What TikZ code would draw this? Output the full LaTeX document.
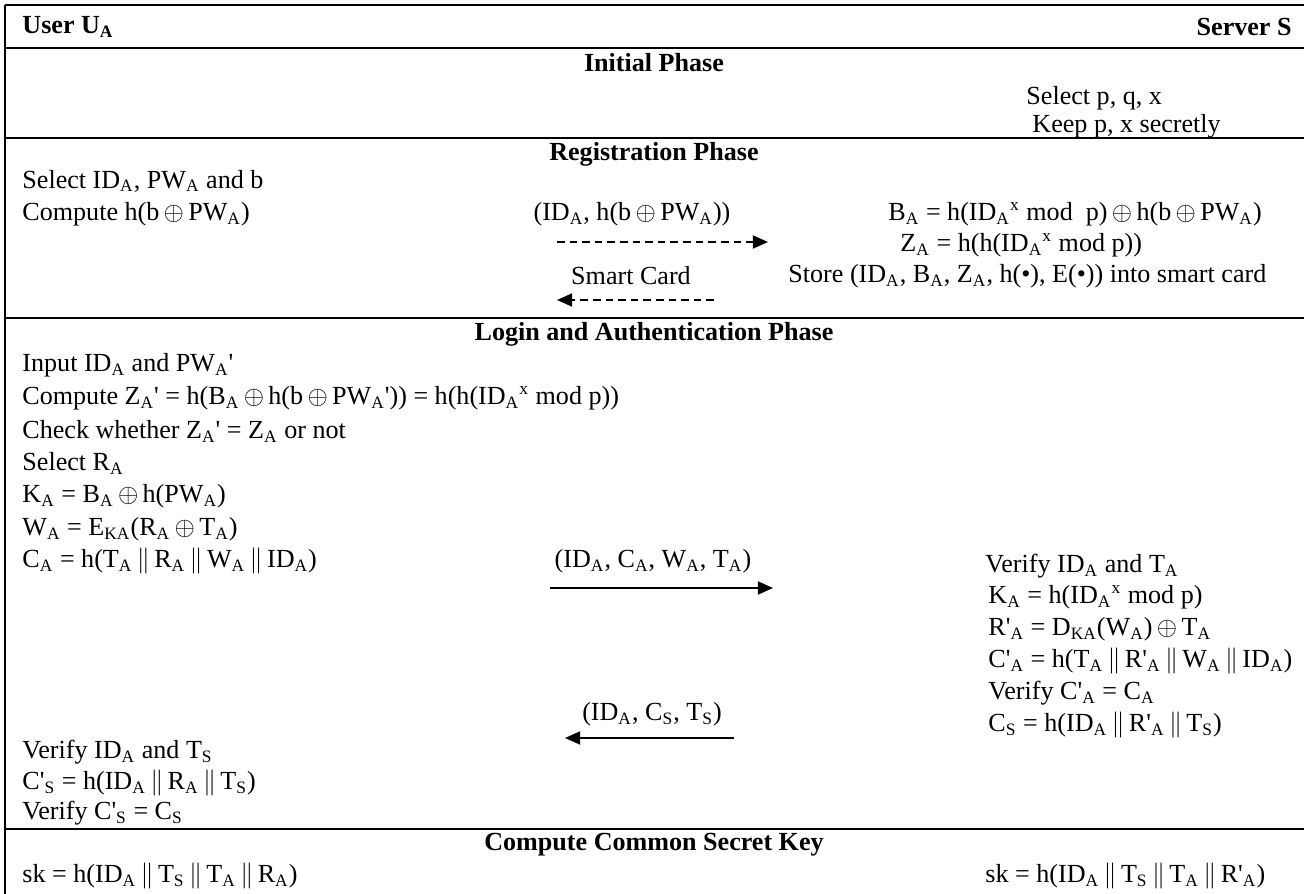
\documentclass[tikz,border=0pt]{standalone}
\usepackage{fontspec}
\setmainfont{Liberation Serif}
\usetikzlibrary{arrows.meta}
\newcommand{\subs}[1]{\textsubscript{#1}}
\newcommand{\sups}[1]{\textsuperscript{#1}}
\newcommand{\XOR}{\,$\oplus$\,}
\newcommand{\CAT}{$\,\|\,$}
\newcommand{\pr}{\textquotesingle}
\begin{document}
\begin{tikzpicture}[x=0.46pt,y=-0.46pt,
  txt/.style={anchor=west,inner sep=0pt,font=\fontsize{12}{14}\selectfont},
  ttl/.style={inner sep=0pt,font=\fontsize{12}{14}\selectfont\bfseries},
  rule/.style={line width=1pt},
  msg/.style={line width=0.9pt,-{Triangle[length=7pt,width=6pt]}},
  dmsg/.style={msg,dash pattern=on 3.5pt off 2.3pt}]
\useasboundingbox (0,0) rectangle (1304,894);

% frame and phase rules
\draw[rule] (5,5) -- (1304,5);
\draw[rule] (5,5) -- (5,894);
\foreach \yy in {48,138,318,829}
  \draw[rule] (5,\yy) -- (1304,\yy);

% header
\node[ttl,anchor=west] (user) at (22,27) {User U\subs{A}};
\node[ttl,anchor=east] (server) at (1292,27) {Server S};

% initial phase
\node[ttl] (tinit) at (654,63) {Initial Phase};
\node[txt] (s1) at (1026,98) {Select p, q, x};
\node[txt] (s2) at (1032,126) {Keep p, x secretly};

% registration phase
\node[ttl] (treg) at (654,154) {Registration Phase};
\node[txt] (u1) at (22,181) {Select ID\subs{A}, PW\subs{A} and b};
\node[txt] (u2) at (22,214) {Compute h(b\XOR PW\subs{A})};
\node[txt,anchor=center] (m1) at (632,214) {(ID\subs{A}, h(b\XOR PW\subs{A}))};
\node[txt] (s3) at (888,214) {B\subs{A} = h(ID\subs{A}\sups{x} mod~ p)\XOR h(b\XOR PW\subs{A})};
\node[txt] (s4) at (900,245) {Z\subs{A} = h(h(ID\subs{A}\sups{x} mod p))};
\node[txt,anchor=center] (m2) at (631,276) {Smart Card};
\node[txt] (s5) at (788,276) {Store (ID\subs{A}, B\subs{A}, Z\subs{A}, h(\textbullet), E(\textbullet)) into smart card};
\coordinate (a1s) at (557,242);
\coordinate (a1e) at (768,242);
\coordinate (a2s) at (714,300);
\coordinate (a2e) at (557,300);
\draw[dmsg] (a1s) -- (a1e);
\draw[dmsg] (a2s) -- (a2e);

% login and authentication phase
\node[ttl] (tlog) at (654,334) {Login and Authentication Phase};
\node[txt] (u3) at (22,365) {Input ID\subs{A} and PW\subs{A}\pr};
\node[txt] (u4) at (22,398) {Compute Z\subs{A}\pr{} = h(B\subs{A}\XOR h(b\XOR PW\subs{A}\pr)) = h(h(ID\subs{A}\sups{x} mod p))};
\node[txt] (u5) at (22,431) {Check whether Z\subs{A}\pr{} = Z\subs{A} or not};
\node[txt] (u6) at (22,463) {Select R\subs{A}};
\node[txt] (u7) at (22,496) {K\subs{A} = B\subs{A}\XOR h(PW\subs{A})};
\node[txt] (u8) at (22,529) {W\subs{A} = E\subs{KA}(R\subs{A}\XOR T\subs{A})};
\node[txt] (u9) at (22,561) {C\subs{A} = h(T\subs{A}\CAT R\subs{A}\CAT W\subs{A}\CAT ID\subs{A})};
\node[txt,anchor=center] (m3) at (653,561) {(ID\subs{A}, C\subs{A}, W\subs{A}, T\subs{A})};
\coordinate (a3s) at (550,588);
\coordinate (a3e) at (773,588);
\draw[msg] (a3s) -- (a3e);

\node[txt] (s6) at (985,566) {Verify ID\subs{A} and T\subs{A}};
\node[txt] (s7) at (988,597) {K\subs{A} = h(ID\subs{A}\sups{x} mod p)};
\node[txt] (s8) at (988,629) {R\pr\subs{A} = D\subs{KA}(W\subs{A})\XOR T\subs{A}};
\node[txt] (s9) at (988,661) {C\pr\subs{A} = h(T\subs{A}\CAT R\pr\subs{A}\CAT W\subs{A}\CAT ID\subs{A})};
\node[txt] (s10) at (988,693) {Verify C\pr\subs{A} = C\subs{A}};
\node[txt] (s11) at (988,725) {C\subs{S} = h(ID\subs{A}\CAT R\pr\subs{A}\CAT T\subs{S})};
\node[txt,anchor=center] (m4) at (652,714) {(ID\subs{A}, C\subs{S}, T\subs{S})};
\coordinate (a4s) at (734,738);
\coordinate (a4e) at (565,738);
\draw[msg] (a4s) -- (a4e);

\node[txt] (u10) at (22,752) {Verify ID\subs{A} and T\subs{S}};
\node[txt] (u11) at (22,783) {C\pr\subs{S} = h(ID\subs{A}\CAT R\subs{A}\CAT T\subs{S})};
\node[txt] (u12) at (22,813) {Verify C\pr\subs{S} = C\subs{S}};

% session key
\node[ttl] (tkey) at (654,845) {Compute Common Secret Key};
\node[txt] (u13) at (22,876) {sk = h(ID\subs{A}\CAT T\subs{S}\CAT T\subs{A}\CAT R\subs{A})};
\node[txt] (s12) at (985,876) {sk = h(ID\subs{A}\CAT T\subs{S}\CAT T\subs{A}\CAT R\pr\subs{A})};
\end{tikzpicture}
\end{document}
